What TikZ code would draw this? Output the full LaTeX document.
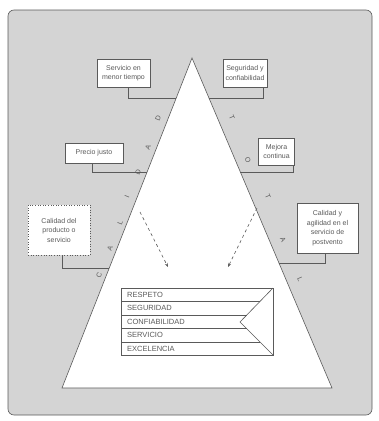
\documentclass[tikz,border=0pt]{standalone}
\usepackage{fontspec}
\setmainfont{Liberation Sans}
\usetikzlibrary{arrows.meta}
\definecolor{paper}{RGB}{212,212,212}
\definecolor{ink}{RGB}{90,90,90}

\begin{document}
\begin{tikzpicture}[x=1pt,y=-1pt,font=\fontsize{7}{9.5}\selectfont,text=ink,
box/.style={draw=ink,line width=.6pt,fill=white,align=center,inner sep=1pt},
shad/.style={draw=ink,line width=.6pt},
arr/.style={-{Stealth[length=4pt,width=3pt]},dashed,line width=.6pt,draw=ink},
lett/.style={font=\fontsize{7}{7}\selectfont,inner sep=0pt},
row/.style={anchor=west,font=\fontsize{7.5}{7.5}\selectfont,inner sep=0pt}]

\useasboundingbox (0,0) rectangle (379,421);
\draw[ink,fill=paper,rounded corners=6pt,line width=.6pt] (8,10) rectangle (372,415);

\coordinate (apex) at (192,58);
\coordinate (bl) at (62,388);
\coordinate (br) at (332,388);
\draw[ink,fill=white,line width=.6pt] (apex)--(br)--(bl)--cycle;

% cuadros laterales
\node[box,minimum width=53pt,minimum height=28pt](serv)at(123.5,73){Servicio en\\menor tiempo};
\node[box,minimum width=44pt,minimum height=28pt](segu)at(245,73){Seguridad y\\confiabilidad};
\node[box,minimum width=58pt,minimum height=20pt](prec)at(94,153){Precio justo};
\node[box,minimum width=36pt,minimum height=27pt](mejo)at(276.5,151.5){Mejora\\continua};
\node[box,dotted,minimum width=62pt,minimum height=50pt](cpro)at(59,230){Calidad del\\producto o\\servicio};
\node[box,minimum width=61pt,minimum height=50pt](cagi)at(327.5,228){Calidad y\\agilidad en el\\servicio de\\postvento};

\coordinate (k1) at (128,98);  \coordinate (e1) at (176.2,98);
\coordinate (k2) at (263,98);  \coordinate (e2) at (209,98);
\coordinate (k3) at (92,172);  \coordinate (e3) at (147.1,172);
\coordinate (k4) at (293,172); \coordinate (e4) at (240.4,172);
\coordinate (k5) at (62,268);  \coordinate (e5) at (109.3,268);
\coordinate (k6) at (325,263); \coordinate (e6) at (279,263);
\draw[shad](k1 |- serv.south)--(k1)--(e1);
\draw[shad](k2 |- segu.south)--(k2)--(e2);
\draw[shad](k3 |- prec.south)--(k3)--(e3);
\draw[shad](k4 |- mejo.south)--(k4)--(e4);
\draw[shad](k5 |- cpro.south)--(k5)--(e5);
\draw[shad](k6 |- cagi.south)--(k6)--(e6);

% letras sobre los lados
\node[lett,rotate=68](lc1)at(99,275){C};
\node[lett,rotate=68](lc2)at(110,248){A};
\node[lett,rotate=68](lc3)at(120,223){L};
\node[lett,rotate=68](lc4)at(127,197){I};
\node[lett,rotate=68](lc5)at(138,172){D};
\node[lett,rotate=68](lc6)at(148,147){A};
\node[lett,rotate=68](lc7)at(158,118){D};
\node[lett,rotate=-67](rt1)at(232,118){T};
\node[lett,rotate=-67](rt2)at(248,160){O};
\node[lett,rotate=-67](rt3)at(268,197){T};
\node[lett,rotate=-67](rt4)at(283,240){A};
\node[lett,rotate=-67](rt5)at(300,279){L};

% flechas
\coordinate (a1) at (140,212); \coordinate (a2) at (168,267);
\coordinate (b1) at (257,208); \coordinate (b2) at (228,267);
\draw[arr](a1)--(a2);
\draw[arr](b1)--(b2);

% tabla de valores
\draw[shad](121,288) rectangle (273,355);
\draw[shad](273,288)--(240,322)--(273,355);
\draw[shad](121,301.5)--(260,301.5);
\draw[shad](121,315)--(246.8,315);
\draw[shad](121,328.5)--(246.5,328.5);
\draw[shad](121,342)--(260,342);
\node[row](v1)at(127,295){RESPETO};
\node[row](v2)at(127,308.2){SEGURIDAD};
\node[row](v3)at(127,321.7){CONFIABILIDAD};
\node[row](v4)at(127,335.2){SERVICIO};
\node[row](v5)at(127,348.5){EXCELENCIA};
\end{tikzpicture}
\end{document}
